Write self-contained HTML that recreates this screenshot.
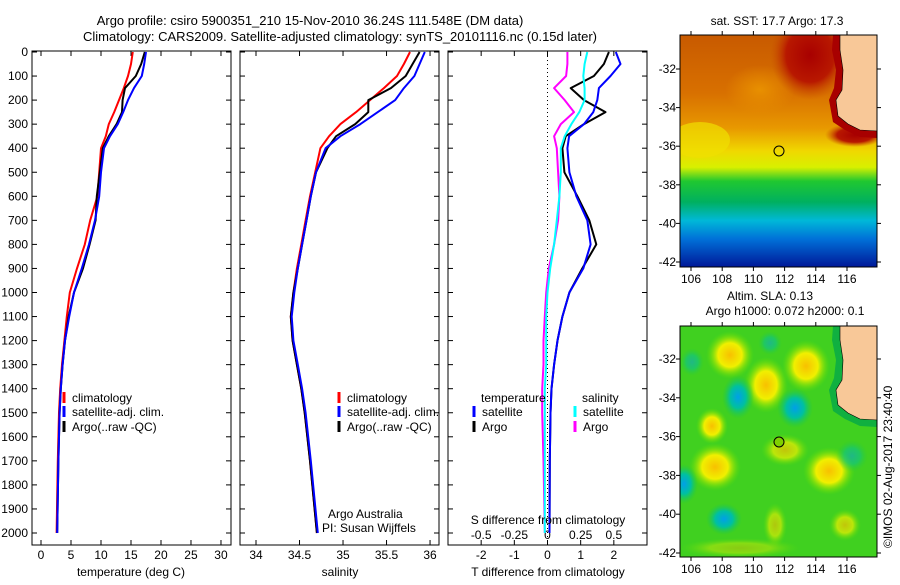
<!DOCTYPE html>
<html><head><meta charset="utf-8"><style>
html,body{margin:0;padding:0;background:#fff}
svg text{font-family:"Liberation Sans",sans-serif;font-size:12px;fill:#000}
</style></head><body>
<svg id="fig" width="900" height="580" viewBox="0 0 900 580" xmlns="http://www.w3.org/2000/svg">
<defs>
<linearGradient id="sstg" x1="0" y1="0" x2="0" y2="1">
<stop offset="0" stop-color="#c85a00"/><stop offset="0.25" stop-color="#d87000"/>
<stop offset="0.4" stop-color="#e89800"/><stop offset="0.5" stop-color="#f0d800"/>
<stop offset="0.57" stop-color="#d8f000"/><stop offset="0.63" stop-color="#20c830"/>
<stop offset="0.72" stop-color="#00b060"/><stop offset="0.8" stop-color="#00b8d8"/>
<stop offset="0.88" stop-color="#0070d8"/><stop offset="1" stop-color="#001898"/>
</linearGradient>
<radialGradient id="ylw"><stop offset="0" stop-color="#f8c000"/><stop offset="0.5" stop-color="#f0f000"/><stop offset="1" stop-color="#60e000" stop-opacity="0"/></radialGradient>
<radialGradient id="cyn"><stop offset="0" stop-color="#00a0e8"/><stop offset="0.5" stop-color="#00c0a0"/><stop offset="1" stop-color="#20c840" stop-opacity="0"/></radialGradient>
<radialGradient id="red"><stop offset="0" stop-color="#a80000"/><stop offset="0.6" stop-color="#b81800"/><stop offset="1" stop-color="#c85000" stop-opacity="0"/></radialGradient>
<radialGradient id="org"><stop offset="0" stop-color="#e89000"/><stop offset="1" stop-color="#e89000" stop-opacity="0"/></radialGradient>
<clipPath id="c1"><rect x="680" y="35" width="197" height="232"/></clipPath>
<clipPath id="c2"><rect x="680" y="326" width="197" height="231"/></clipPath>
</defs>
<text x="310" y="25" text-anchor="middle" style="font-size:13px">Argo profile: csiro 5900351_210 15-Nov-2010 36.24S 111.548E (DM data)</text>
<text x="340" y="41" text-anchor="middle" style="font-size:13px">Climatology: CARS2009. Satellite-adjusted climatology: synTS_20101116.nc (0.15d later)</text>
<g id="plots"></g>

<g>
<text x="777" y="25" text-anchor="middle">sat. SST: 17.7 Argo: 17.3</text>
<g clip-path="url(#c1)">
<rect x="680" y="35" width="197" height="232" fill="url(#sstg)"/>
<ellipse cx="700" cy="140" rx="30" ry="18" fill="#f0e000" opacity="0.7"/>
<ellipse cx="760" cy="90" rx="35" ry="25" fill="url(#org)"/>
<ellipse cx="810" cy="55" rx="40" ry="45" fill="url(#red)"/>
<ellipse cx="855" cy="135" rx="30" ry="12" fill="url(#red)"/>
<polygon points="833,35 877,35 877,138 860,137 845,130 833,122 829,100 834,88 836,70 832,50" fill="#a80000"/>
<polygon points="840,35 877,35 877,131 860,130 848,124 838,116 836,100 842,90 843,70 840,50" fill="#f8c898" stroke="#000" stroke-width="0.6"/>
</g>
<rect x="680" y="35" width="197" height="232" fill="none" stroke="#000"/>
<circle cx="779" cy="151" r="5" fill="none" stroke="#000"/>
</g>

<g>
<text x="770" y="300" text-anchor="middle">Altim. SLA: 0.13</text>
<text x="785" y="315" text-anchor="middle">Argo h1000: 0.072 h2000: 0.1</text>
<g clip-path="url(#c2)">
<rect x="680" y="326" width="197" height="231" fill="#40d020"/>
<ellipse cx="730" cy="355" rx="24" ry="24" fill="url(#ylw)"/>
<ellipse cx="766" cy="385" rx="22" ry="28" fill="url(#ylw)"/>
<ellipse cx="806" cy="366" rx="24" ry="26" fill="url(#ylw)"/>
<ellipse cx="712" cy="426" rx="16" ry="18" fill="url(#ylw)"/>
<ellipse cx="715" cy="467" rx="26" ry="24" fill="url(#ylw)"/>
<ellipse cx="829" cy="471" rx="26" ry="24" fill="url(#ylw)"/>
<ellipse cx="785" cy="450" rx="24" ry="16" fill="url(#ylw)" opacity="0.7"/>
<ellipse cx="845" cy="525" rx="16" ry="16" fill="url(#ylw)" opacity="0.7"/>
<ellipse cx="775" cy="525" rx="12" ry="22" fill="url(#ylw)" opacity="0.6"/>
<ellipse cx="740" cy="548" rx="60" ry="10" fill="url(#ylw)" opacity="0.4"/>
<ellipse cx="738" cy="397" rx="16" ry="22" fill="url(#cyn)"/>
<ellipse cx="795" cy="408" rx="18" ry="20" fill="url(#cyn)"/>
<ellipse cx="684" cy="484" rx="14" ry="20" fill="url(#cyn)"/>
<ellipse cx="724" cy="519" rx="18" ry="16" fill="url(#cyn)"/>
<ellipse cx="692" cy="362" rx="12" ry="14" fill="url(#cyn)" opacity="0.5"/>
<ellipse cx="770" cy="343" rx="12" ry="12" fill="url(#cyn)" opacity="0.5"/>
<ellipse cx="852" cy="456" rx="16" ry="16" fill="url(#cyn)" opacity="0.5"/>
<polygon points="833,326 877,326 877,427 860,426 845,419 833,411 829,390 834,378 836,360 832,340" fill="#10b040"/>
<polygon points="840,326 877,326 877,420 860,419 848,413 838,405 836,390 842,380 843,360 840,340" fill="#f8c898" stroke="#000" stroke-width="0.6"/>
</g>
<rect x="680" y="326" width="197" height="231" fill="none" stroke="#000"/>
<circle cx="779" cy="442" r="5" fill="#80d000" stroke="#000"/>
</g>
<text transform="translate(892,548) rotate(-90)">©IMOS 02-Aug-2017 23:40:40</text>
</svg>
<script>
const depths = [0,50,100,150,200,250,300,350,400,500,600,700,800,900,1000,1100,1200,1300,1400,1500,1700,2000];
const tClim  = [15.3,15.0,14.5,13.8,13.0,12.2,11.3,10.8,10.0,9.7,9.4,8.2,7.3,6.0,4.8,4.3,3.9,3.5,3.2,3.0,2.8,2.6];
const tSat   = [17.5,17.2,16.8,15.5,14.5,13.7,12.8,11.5,10.5,10.0,9.7,9.0,8.0,6.8,5.5,4.7,4.0,3.6,3.3,3.1,2.9,2.7];
const tArgo  = [17.3,16.7,15.8,14.0,13.6,13.5,12.6,11.3,10.3,9.8,9.3,9.1,8.1,7.0,5.5,4.6,4.0,3.6,3.3,3.1,2.9,2.7];
const sClim  = [35.77,35.70,35.62,35.47,35.31,35.15,34.97,34.84,34.74,34.68,34.62,34.57,34.52,34.47,34.43,34.40,34.42,34.47,34.52,34.56,34.62,34.70];
const sSat   = [35.94,35.88,35.82,35.70,35.60,35.40,35.20,34.97,34.80,34.69,34.63,34.58,34.53,34.48,34.44,34.41,34.43,34.48,34.53,34.57,34.63,34.71];
const sArgo  = [35.88,35.80,35.72,35.55,35.29,35.29,35.14,34.92,34.82,34.69,34.63,34.58,34.53,34.48,34.43,34.40,34.42,34.47,34.52,34.56,34.62,34.70];
const dTSat  = [2.06,2.2,1.9,1.55,1.5,1.38,1.1,0.65,0.6,0.66,0.87,1.2,1.3,1.08,0.66,0.45,0.3,0.2,0.12,0.09,0.07,0.06];
const dTArgo = [1.85,1.7,1.4,0.7,1.1,1.75,1.1,0.55,0.45,0.51,0.9,1.26,1.47,1.05,0.66,0.45,0.3,0.2,0.12,0.09,0.07,0.06];
const dSSat  = [0.30,0.28,0.27,0.28,0.28,0.24,0.18,0.13,0.10,0.10,0.09,0.07,0.05,0.02,0.00,-0.01,-0.01,-0.01,-0.02,-0.02,-0.02,-0.02];
const dSArgo = [0.15,0.15,0.14,0.05,0.13,0.20,0.10,0.05,0.07,0.08,0.09,0.08,0.05,0.01,-0.01,-0.02,-0.03,-0.03,-0.04,-0.04,-0.03,-0.02];
const depthTicks = [0,100,200,300,400,500,600,700,800,900,1000,1100,1200,1300,1400,1500,1600,1700,1800,1900,2000];
const tTicks = [0,5,10,15,20,25,30];
const sTicks = [34,34.5,35,35.5,36];
const dTTicks = [-2,-1,0,1,2];
const dSTicks = [-0.5,-0.25,0,0.25,0.5];

const NS='http://www.w3.org/2000/svg';
const root=document.getElementById('plots');
const Y0=52, YK=0.2405, YB=545;
const yS=d=>Y0+d*YK;
function el(tag,attrs,parent,txt){const e=document.createElementNS(NS,tag);for(const k in attrs)e.setAttribute(k,attrs[k]);if(txt!==undefined)e.textContent=txt;(parent||root).appendChild(e);return e;}
function panel(name,x0,x1,xmin,xmax){
  const g=el('g',{});
  
  
  const xs=v=>x0+(v-xmin)/(xmax-xmin)*(x1-x0);
  return {g,xs,x0,x1};
}
function frame(p,ylabels){
  el('rect',{x:p.x0,y:Y0-1,width:p.x1-p.x0,height:YB-Y0+1,fill:'none',stroke:'#000'},p.g);
  depthTicks.forEach(d=>{const y=yS(d);
    el('line',{x1:p.x0,x2:p.x0+5,y1:y,y2:y,stroke:'#000'},p.g);
    el('line',{x1:p.x1-5,x2:p.x1,y1:y,y2:y,stroke:'#000'},p.g);
    if(ylabels){const t=el('text',{x:p.x0-4,y:y+4,'text-anchor':'end'},p.g,String(d));
      }
  });
}
function xticks(p,ticks,xs,labels,ly){
  ticks.forEach(v=>{const x=xs(v);
    el('line',{x1:x,x2:x,y1:YB,y2:YB-5,stroke:'#000'},p.g);
    el('line',{x1:x,x2:x,y1:Y0-1,y2:Y0+4,stroke:'#000'},p.g);
    if(labels){const t=el('text',{x:x,y:ly,'text-anchor':'middle'},p.g,String(v));
      }
  });
}
function line(p,xs,vals,color,name,w){
  const pts=vals.map((v,i)=>xs(v).toFixed(1)+','+yS(depths[i]).toFixed(1)).join(' ');
  const e=el('polyline',{points:pts,fill:'none',stroke:color,'stroke-width':w||2,'stroke-linejoin':'round'},p.g);
  
  
}
function legend(p,x,y,color,label,name){
  el('line',{x1:x,x2:x,y1:y-10,y2:y+1,stroke:color,'stroke-width':3},p.g);
  const t=el('text',{x:x+8,y:y},p.g,label);
  
  
}
function label(p,x,y,s,name,anchor){
  const t=el('text',{x:x,y:y,'text-anchor':anchor||'middle'},p.g,s);
  
  
}
const p1=panel('temperature-panel',32,231,-1.5,31.67);
frame(p1,true);xticks(p1,tTicks,p1.xs,true,559);
line(p1,p1.xs,tClim,'#ff0000','temp-climatology-line');
line(p1,p1.xs,tArgo,'#000000','temp-argo-line');
line(p1,p1.xs,tSat,'#0000ff','temp-satellite-line');
legend(p1,64,402,'#ff0000','climatology','legend-climatology');
legend(p1,64,416,'#0000ff','satellite-adj. clim.','legend-satellite');
legend(p1,64,431,'#000000','Argo(..raw -QC)','legend-argo');
label(p1,131,576,'temperature (deg C)','x-axis-title-temperature');
const p2=panel('salinity-panel',240,439,33.816,36.103);
frame(p2,false);xticks(p2,sTicks,p2.xs,true,559);
line(p2,p2.xs,sClim,'#ff0000','sal-climatology-line');
line(p2,p2.xs,sArgo,'#000000','sal-argo-line');
line(p2,p2.xs,sSat,'#0000ff','sal-satellite-line');
legend(p2,339,402,'#ff0000','climatology','legend-climatology');
legend(p2,339,416,'#0000ff','satellite-adj. clim.','legend-satellite');
legend(p2,339,431,'#000000','Argo(..raw -QC)','legend-argo');
label(p2,328,518,'Argo Australia','credit-line','start');
label(p2,322,532,'PI: Susan Wijffels','pi-line','start');
label(p2,340,576,'salinity','x-axis-title-salinity');
const p3=panel('difference-panel',448,647,-3,3);
const xsS=v=>p3.xs(v*4);
frame(p3,false);xticks(p3,dTTicks,p3.xs,true,559);
dSTicks.forEach(v=>{const t=el('text',{x:xsS(v),y:539,'text-anchor':'middle'},p3.g,String(v));
  });
el('line',{x1:p3.xs(0),x2:p3.xs(0),y1:Y0,y2:YB,stroke:'#000','stroke-dasharray':'1,3'},p3.g);
line(p3,p3.xs,dTArgo,'#000000','dT-argo-line');
line(p3,p3.xs,dTSat,'#0000ff','dT-satellite-line');
line(p3,xsS,dSArgo,'#ff00ff','dS-argo-line');
line(p3,xsS,dSSat,'#00ffff','dS-satellite-line');
label(p3,481,402,'temperature','legend-temperature-heading','start');
legend(p3,474,416,'#0000ff','satellite','legend-t-satellite');
legend(p3,474,431,'#000000','Argo','legend-t-argo');
label(p3,582,402,'salinity','legend-salinity-heading','start');
legend(p3,575,416,'#00ffff','satellite','legend-s-satellite');
legend(p3,575,431,'#ff00ff','Argo','legend-s-argo');
label(p3,548,524,'S difference from climatology','s-axis-title');
label(p3,548,576,'T difference from climatology','t-axis-title');
const lons=[106,108,110,112,114,116];
const lats=[-32,-34,-36,-38,-40,-42];
const svg=document.getElementById('fig');
function mapAxes(top,bot,lat32,lat42,name){
  const g=el('g',{},svg);
  
  
  const lx=v=>691+(v-106)*15.6;
  const ly=v=>lat32+(-32-v)/10*(lat42-lat32);
  lons.forEach(v=>{const x=lx(v);
    el('line',{x1:x,x2:x,y1:bot,y2:bot+4,stroke:'#000'},g);
    el('line',{x1:x,x2:x,y1:top-4,y2:top,stroke:'#000'},g);
    const t=el('text',{x:x,y:bot+16,'text-anchor':'middle'},g,String(v));
    });
  lats.forEach(v=>{const y=ly(v);
    el('line',{x1:676,x2:680,y1:y,y2:y,stroke:'#000'},g);
    el('line',{x1:877,x2:881,y1:y,y2:y,stroke:'#000'},g);
    const t=el('text',{x:676,y:y+4,'text-anchor':'end'},g,String(v));
    });
}
mapAxes(35,267,69,262,'sst-map-axes');
mapAxes(326,557,359,553,'sla-map-axes');
</script>
</body></html>
